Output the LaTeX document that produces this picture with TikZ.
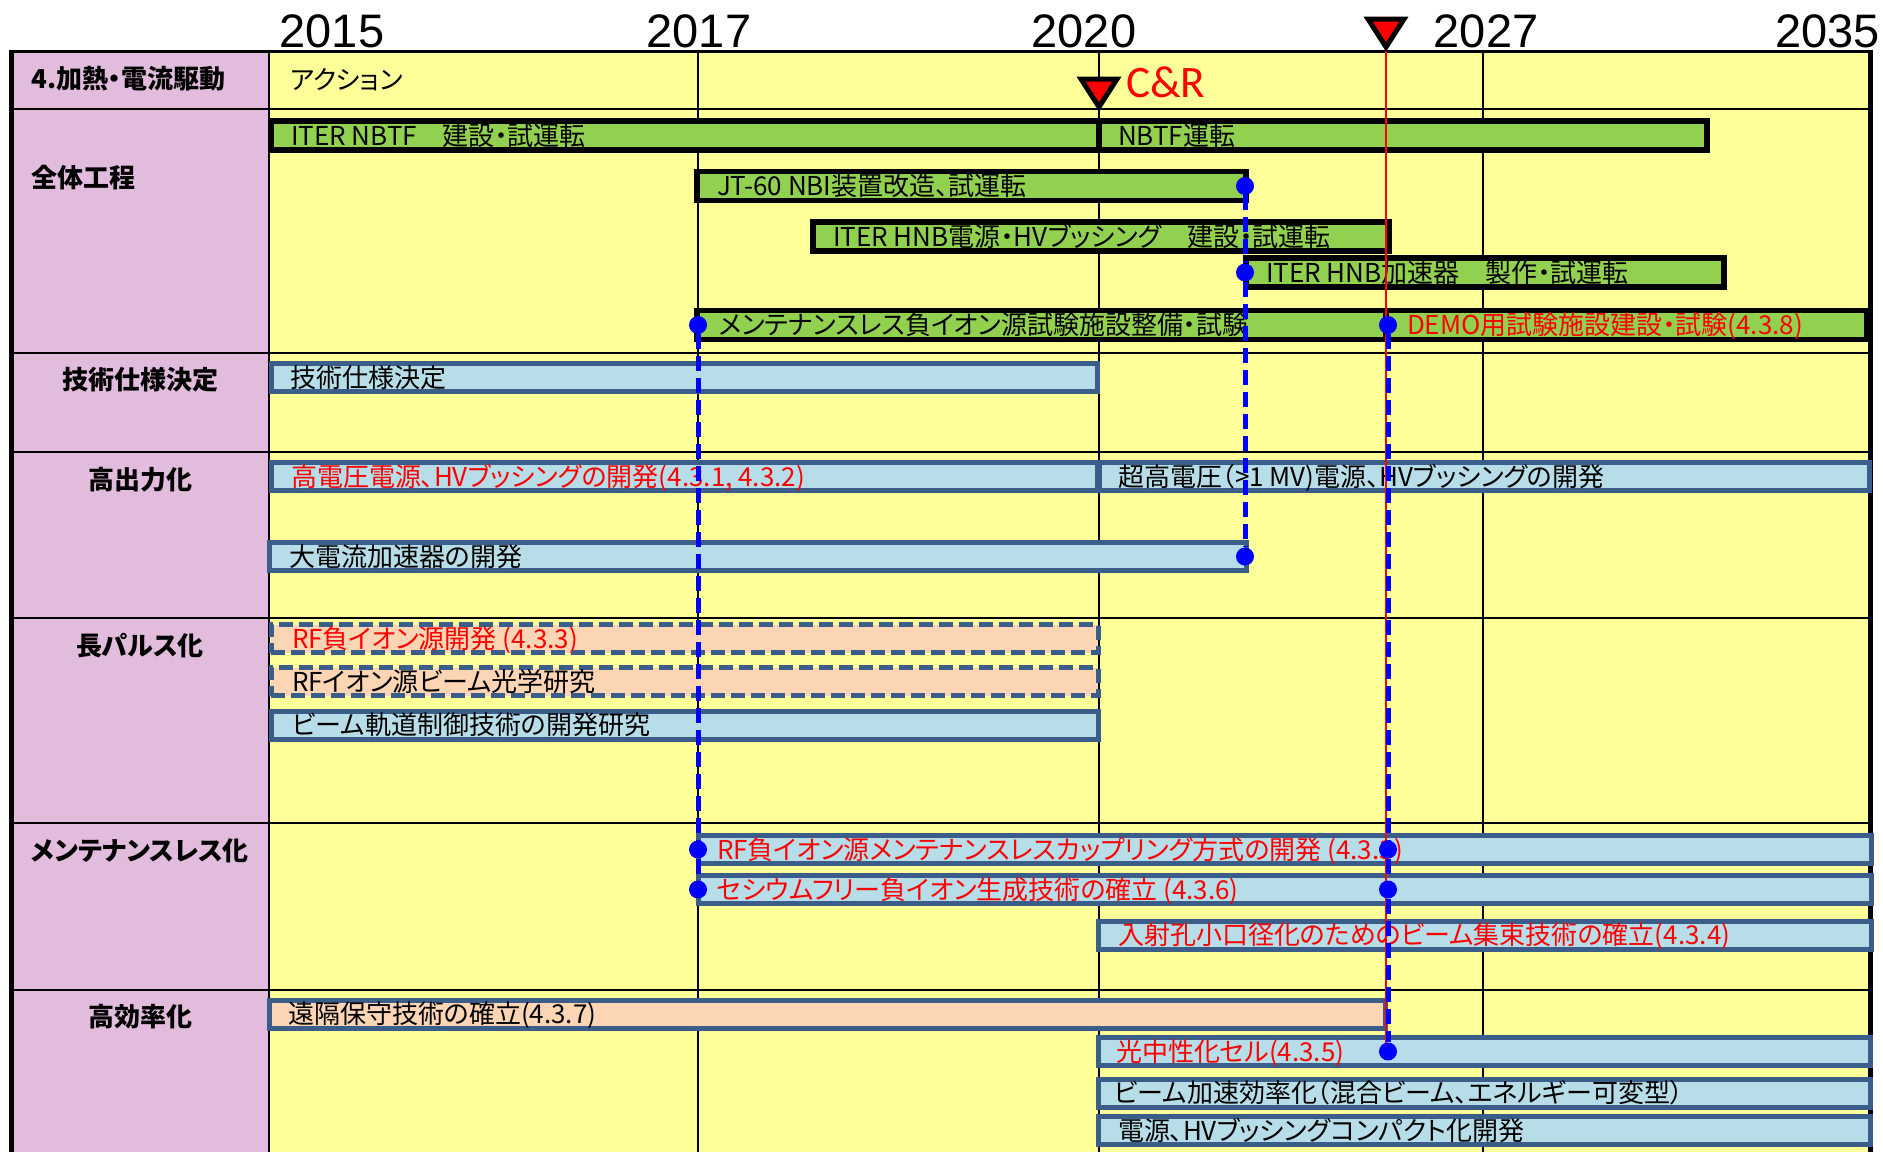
\documentclass[tikz,border=0pt]{standalone}
\usepackage{fontspec}
\usepackage{xcolor}
\usetikzlibrary{positioning}
\setmainfont{Noto Sans CJK JP}[RawFeature=+palt]
\newfontfamily\yearfont{Liberation Sans}
\newfontfamily\crfont{Carlito}
\definecolor{cellylw}{HTML}{FFFF99}
\definecolor{cellpnk}{HTML}{E2BCDD}
\definecolor{bargrn}{HTML}{92D050}
\definecolor{barblu}{HTML}{B7DDE8}
\definecolor{barpch}{HTML}{FCD5B5}
\definecolor{barline}{HTML}{3B5D8A}
\definecolor{crred}{HTML}{FF0000}
\definecolor{linkblue}{HTML}{0000FF}

\begin{document}
\begin{tikzpicture}[x=1pt, y=-1pt,
        barbase/.style={anchor=west, minimum height=28pt, inner sep=0pt, outer sep=0pt, line width=5pt},
        gbar/.style={barbase, draw=black, fill=bargrn, line width=5.5pt, minimum height=29pt},
        bbar/.style={barbase, draw=barline, fill=barblu},
        pbar/.style={barbase, draw=barline, fill=barpch},
        dbar/.style={pbar, dash pattern=on 14pt off 6pt},
        lbl/.style={anchor=west, inner sep=0pt, outer sep=0pt, font=\fontsize{26}{30}\selectfont,
                    text height=22.9pt, text depth=3.1pt},
        lblred/.style={lbl, text=crred},
        sec/.style={inner sep=0pt, font=\fontsize{26}{30}\selectfont\bfseries, text height=22.9pt, text depth=3.1pt},
        yr/.style={anchor=base, inner sep=0pt, font=\yearfont\fontsize{47}{50}\selectfont},
        bdot/.style={circle, fill=linkblue, minimum size=18pt, inner sep=0pt},
        link/.style={draw=linkblue, line width=5pt, dash pattern=on 15pt off 7pt},
        gline/.style={line width=2pt},
        tri/.style={draw=black, fill=crred, line width=5pt, line join=miter}
      ]
        \useasboundingbox (0,0) rectangle (1883,1152);
        % table
        \fill[cellpnk] (11,51) rectangle (269,1152);
        \fill[cellylw] (269,51) rectangle (1870,1152);
        \foreach \y in {109,353,452,618,823,990}
          \draw[gline] (11,\y) -- (1870,\y);
        \foreach \x in {269,698,1099,1483}
          \draw[gline] (\x,51) -- (\x,1152);
        \draw[line width=3pt] (11,51) -- (1870,51);
        \draw[line width=5pt] (11,49.5) -- (11,1152);
        \draw[line width=5pt] (1870,49.5) -- (1870,1152);

        % years
        \node[yr] (y15) at (332,47) {2015};
        \node[yr] (y17) at (699,47) {2017};
        \node[yr] (y20) at (1084,47) {2020};
        \node[yr] (y27) at (1486,47) {2027};
        \node[yr, anchor=base east] (y35) at (1880,47) {2035};

        % row heads
        \node[sec, anchor=west] (hd) at (31,79) {4.加熱・電流駆動};
        \node[lbl] (act) at (290,80) {アクション};
        \node[sec, anchor=west] (s1) at (31,178) {全体工程};
        \node[sec] (s2) at (140,380) {技術仕様決定};
        \node[sec] (s3) at (140,480) {高出力化};
        \node[sec] (s4) at (140,646) {長パルス化};
        \node[sec] (s5) at (140,851) {メンテナンスレス化};
        \node[sec] (s6) at (140,1017) {高効率化};

        % 全体工程
        \node[gbar, minimum width=828pt] (nbtf) at (271,135.5) {};
        \node[lbl, right=20pt of nbtf.west] (nbtf-t) {ITER NBTF　建設・試運転};
        \node[gbar, minimum width=608pt] (nbtfop) at (1099,135.5) {};
        \node[lbl, right=19pt of nbtfop.west] (nbtfop-t) {NBTF運転};
        \node[gbar, minimum width=549pt] (jt60) at (697,186) {};
        \node[lbl, right=20pt of jt60.west] (jt60-t) {JT-60 NBI装置改造、試運転};
        \node[gbar, minimum width=576pt] (hnbps) at (813,236.5) {};
        \node[lbl, right=20pt of hnbps.west] (hnbps-t) {ITER HNB電源・HVブッシング　建設・試運転};
        \node[gbar, minimum width=478pt] (hnbacc) at (1246,272.5) {};
        \node[lbl, right=20pt of hnbacc.west] (hnbacc-t) {ITER HNB加速器　製作・試運転};
        \node[gbar, minimum width=689pt] (mlfac) at (697,325) {};
        \node[lbl, right=22pt of mlfac.west] (mlfac-t) {メンテナンスレス負イオン源試験施設整備・試験};
        \node[gbar, minimum width=481pt] (demo) at (1386,325) {};
        \node[lblred, right=21pt of demo.west] (demo-t) {DEMO用試験施設建設・試験(4.3.8)};

        % 技術仕様決定
        \node[bbar, minimum width=826pt] (spec) at (271,377.5) {};
        \node[lbl, right=19pt of spec.west] (spec-t) {技術仕様決定};

        % 高出力化
        \node[bbar, minimum width=826pt] (hv) at (271,476.5) {};
        \node[lblred, right=20pt of hv.west] (hv-t) {高電圧電源、HVブッシングの開発(4.3.1, 4.3.2)};
        \node[bbar, minimum width=770pt] (uhv) at (1099,476.5) {};
        \node[lbl, right=19pt of uhv.west] (uhv-t) {超高電圧（>1 MV)電源、HVブッシングの開発};
        \node[bbar, minimum width=977pt] (acc) at (269,556.5) {};
        \node[lbl, right=20pt of acc.west] (acc-t) {大電流加速器の開発};

        % 長パルス化
        \node[dbar, minimum width=827pt] (rf) at (271,638.5) {};
        \node[lblred, right=21pt of rf.west] (rf-t) {RF負イオン源開発 (4.3.3)};
        \node[dbar, minimum width=827pt] (opt) at (271,681.5) {};
        \node[lbl, right=21pt of opt.west] (opt-t) {RFイオン源ビーム光学研究};
        \node[bbar, minimum width=827pt] (orbit) at (271,725) {};
        \node[lbl, right=21pt of orbit.west] (orbit-t) {ビーム軌道制御技術の開発研究};

        % メンテナンスレス化
        \node[bbar, minimum width=1173pt] (cpl) at (698,849.5) {};
        \node[lblred, right=19pt of cpl.west] (cpl-t) {RF負イオン源メンテナンスレスカップリング方式の開発 (4.3.3)};
        \node[bbar, minimum width=1173pt] (csf) at (698,889.5) {};
        \node[lblred, right=19pt of csf.west] (csf-t) {セシウムフリー負イオン生成技術の確立 (4.3.6)};
        \node[bbar, minimum width=773pt] (foc) at (1098,935) {};
        \node[lblred, right=20pt of foc.west] (foc-t) {入射孔小口径化のためのビーム集束技術の確立(4.3.4)};

        % 高効率化
        \node[pbar, minimum width=1116pt] (rem) at (269,1014) {};
        \node[lbl, right=19pt of rem.west] (rem-t) {遠隔保守技術の確立(4.3.7)};
        \node[bbar, minimum width=772pt] (pn) at (1098,1051.5) {};
        \node[lblred, right=18pt of pn.west] (pn-t) {光中性化セル(4.3.5)};
        \node[bbar, minimum width=772pt] (eff) at (1098,1093) {};
        \node[lbl, right=16pt of eff.west] (eff-t) {ビーム加速効率化（混合ビーム、エネルギー可変型）};
        \node[bbar, minimum width=772pt] (cmp) at (1098,1130.5) {};
        \node[lbl, right=20pt of cmp.west] (cmp-t) {電源、HVブッシングコンパクト化開発};

        % C&R line
        \coordinate (crtip) at (1386,51);
        \coordinate (crend) at (1386,1051.5);
        \draw[crred, line width=2pt] (crtip) -- (crend);

        % milestones
        \node[bdot] (d1) at (698,325) {};
        \node[bdot] (d2) at (1245,186) {};
        \node[bdot] (d3) at (1245,272.5) {};
        \node[bdot] (d4) at (1245,556.5) {};
        \node[bdot] (d5) at (1388,325) {};
        \node[bdot] (d6) at (698,849.5) {};
        \node[bdot] (d7) at (698,889.5) {};
        \node[bdot] (d8) at (1388,849.5) {};
        \node[bdot] (d9) at (1388,889.5) {};
        \node[bdot] (d10) at (1388,1051.5) {};
        \draw[link] (d2) -- (d3) -- (d4);
        \draw[link] (d1) -- (d6) -- (d7);
        \draw[link] (d5) -- (d8) -- (d9) -- (d10);

        % C&R markers
        \draw[tri] (1081,79) -- (1117,79) -- (1099,107) -- cycle;
        \draw[tri] (1368,19) -- (1404,19) -- (1386,47) -- cycle;
        \node[anchor=base west, inner sep=0pt, text=crred, font=\crfont\fontsize{45}{50}\selectfont] (cr) at (1126,97) {C\&R};
      \end{tikzpicture}
\end{document}
